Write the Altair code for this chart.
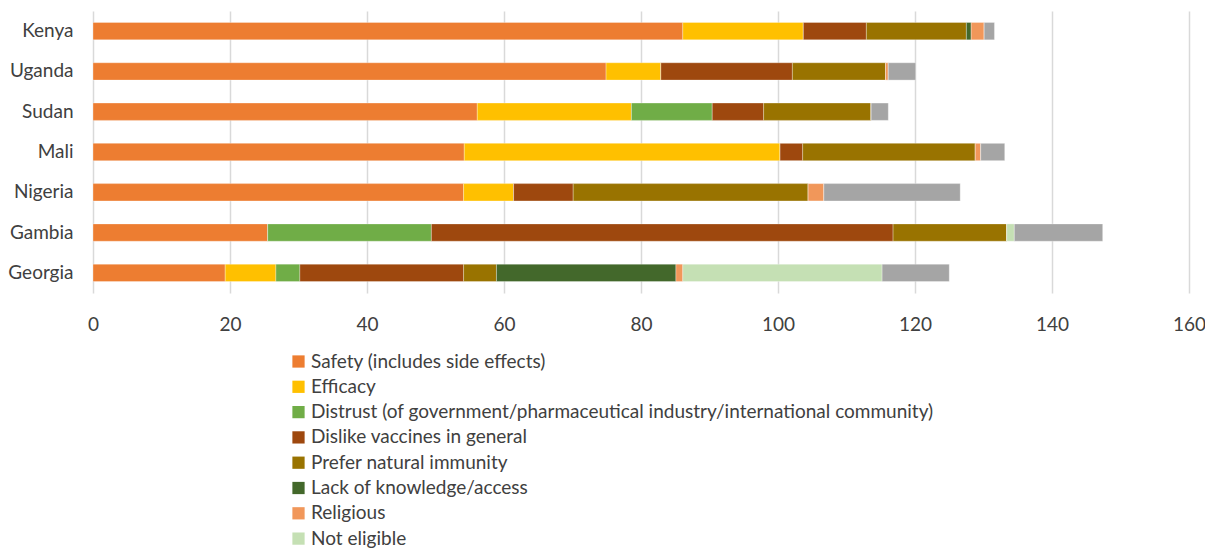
import altair as alt
import pandas as pd

countries = ["Kenya", "Uganda", "Sudan", "Mali", "Nigeria", "Gambia", "Georgia"]

reasons = [
    "Safety (includes side effects)",
    "Efficacy",
    "Distrust (of government/pharmaceutical industry/international community)",
    "Dislike vaccines in general",
    "Prefer natural immunity",
    "Lack of knowledge/access",
    "Religious",
    "Not eligible",
    "Other",
]
colors = ["#ED7D31", "#FFC000", "#70AD47", "#9E480E", "#997300",
          "#43682B", "#F1975A", "#C5E0B4", "#A5A5A5"]

safety        = [86.1, 74.9, 56.1, 54.2, 54.1, 25.5, 19.3]
efficacy      = [17.6,  8.0, 22.5, 46.1,  7.3,  0.0,  7.4]
distrust      = [ 0.0,  0.0, 11.8,  0.0,  0.0, 23.9,  3.5]
dislike       = [ 9.2, 19.2,  7.5,  3.3,  8.7, 67.4, 23.9]
prefer_nat    = [14.6, 13.6, 15.7, 25.2, 34.3, 16.6,  4.8]
lack_knowl    = [ 0.7,  0.0,  0.0,  0.0,  0.0,  0.0, 26.2]
religious     = [ 1.9,  0.4,  0.0,  0.8,  2.3,  0.0,  1.0]
not_eligible  = [ 0.0,  0.0,  0.0,  0.0,  0.0,  1.1, 29.1]
other         = [ 1.5,  4.0,  2.5,  3.5, 19.9, 12.9,  9.8]

series = [safety, efficacy, distrust, dislike, prefer_nat,
          lack_knowl, religious, not_eligible, other]

rows = []
for ri, (reason, vals) in enumerate(zip(reasons, series)):
    for c, v in zip(countries, vals):
        rows.append({"country": c, "reason": reason, "value": v, "order": ri})
df = pd.DataFrame(rows)

FONT = "Lato"

chart = alt.Chart(df).mark_bar(stroke="white", strokeWidth=0.5, strokeOpacity=0.6).encode(
    x=alt.X("value:Q", stack="zero",
            scale=alt.Scale(domain=[0, 160], nice=False),
            axis=alt.Axis(values=list(range(0, 161, 20)), title=None, domain=False,
                          ticks=False, labelFontSize=19, labelColor="#404040",
                          labelPadding=22, gridColor="#d9d9d9", gridWidth=1.5,
                          labelFont=FONT, labelFlush=False)),
    y=alt.Y("country:N", sort=countries,
            scale=alt.Scale(paddingInner=0.57, paddingOuter=0.285),
            axis=alt.Axis(title=None, domain=False, ticks=False, labelFontSize=19,
                          labelColor="#404040", labelPadding=20, labelFont=FONT)),
    color=alt.Color("reason:N",
                    scale=alt.Scale(domain=reasons, range=colors),
                    legend=alt.Legend(title=None, orient="none", legendX=196, legendY=341,
                                      values=reasons[:8], symbolType="square",
                                      symbolSize=150, symbolStrokeWidth=0,
                                      labelFontSize=19, labelColor="#404040",
                                      labelFont=FONT, rowPadding=5.3, labelLimit=1200,
                                      labelOffset=3, symbolOpacity=1)),
    order=alt.Order("order:Q", sort="ascending"),
).properties(
    width=1096, height=282,
    autosize=alt.AutoSizeParams(type="none"),
    padding={"left": 85, "top": 3, "right": 16, "bottom": 262},
).configure_view(stroke=None)

chart.save("out.html", embed_options={"renderer": "svg", "actions": False})
